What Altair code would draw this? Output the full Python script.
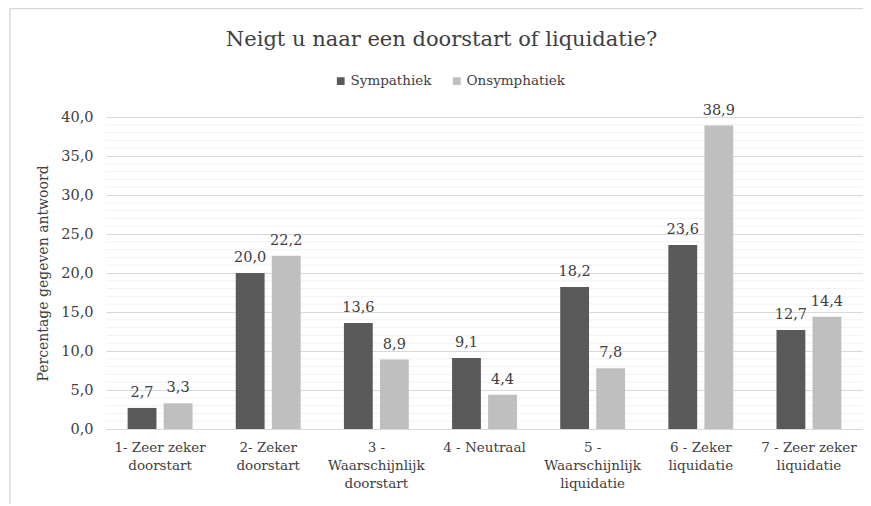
import altair as alt
import pandas as pd

categories = [
    "1- Zeer zeker\ndoorstart",
    "2- Zeker\ndoorstart",
    "3 -\nWaarschijnlijk\ndoorstart",
    "4 - Neutraal",
    "5 -\nWaarschijnlijk\nliquidatie",
    "6 - Zeker\nliquidatie",
    "7 - Zeer zeker\nliquidatie",
]
series_names = ["Sympathiek", "Onsymphatiek"]
sympathiek = [2.7, 20.0, 13.6, 9.1, 18.2, 23.6, 12.7]
onsymphatiek = [3.3, 22.2, 8.9, 4.4, 7.8, 38.9, 14.4]
colors = ["#595959", "#bfbfbf"]
major_ticks = [0, 5, 10, 15, 20, 25, 30, 35, 40]
minor_ticks = [v for v in range(0, 41) if v % 5 != 0]

rows = []
for c, a, b in zip(categories, sympathiek, onsymphatiek):
    rows.append({"cat": c, "serie": series_names[0], "val": a})
    rows.append({"cat": c, "serie": series_names[1], "val": b})
df = pd.DataFrame(rows)
df["label"] = df["val"].map(lambda v: f"{v:.1f}".replace(".", ","))

FONT = "DejaVu Serif"
TXT = "#404040"
FS_NUM = 14.5
FS_TXT = 13.5

y_axis = alt.Axis(values=major_ticks,
                  labelExpr="replace(format(datum.value, '.1f'), '.', ',')",
                  labelFontSize=FS_NUM, labelFont=FONT, labelColor=TXT,
                  labelPadding=13, ticks=False, domain=False,
                  gridColor="#d9d9d9", gridWidth=1,
                  titleFontSize=14, titleFont=FONT, titleColor=TXT,
                  titleFontWeight="normal", titlePadding=10)
y_title = "Percentage gegeven antwoord"

x_enc = alt.X("cat:N", sort=categories, title=None,
              scale=alt.Scale(paddingInner=0.4, paddingOuter=0.2),
              axis=alt.Axis(labelExpr="split(datum.label, '\\n')", labelAngle=0,
                            labelFontSize=FS_TXT, labelFont=FONT, labelColor=TXT,
                            labelLineHeight=18, labelPadding=11, labelBaseline="top",
                            ticks=False, domainColor="#d9d9d9", grid=False))
xoff = alt.XOffset("serie:N", sort=series_names,
                   scale=alt.Scale(paddingInner=0.2))
y_scale = alt.Scale(domain=[0, 40], nice=False, zero=True)

base = alt.Chart(df)

minor = alt.Chart(pd.DataFrame({"v": minor_ticks})).mark_rule(color="#f2f2f2", strokeWidth=1).encode(
    y=alt.Y("v:Q", scale=y_scale, title=y_title, axis=y_axis),
)

bars = base.mark_bar().encode(
    x=x_enc,
    xOffset=xoff,
    y=alt.Y("val:Q", scale=y_scale, title=y_title, axis=y_axis),
    color=alt.Color("serie:N", sort=series_names,
                    scale=alt.Scale(domain=series_names, range=colors),
                    legend=alt.Legend(title=None, orient="none", direction="horizontal",
                                      legendX=228, legendY=-43,
                                      symbolType="square", symbolSize=60,
                                      symbolStrokeWidth=0, labelFontSize=FS_TXT,
                                      labelFont=FONT, labelColor=TXT,
                                      labelOffset=3, columnPadding=18)),
)

labels = base.mark_text(font=FONT, fontSize=FS_NUM, color=TXT, baseline="alphabetic", dy=-11).encode(
    x=alt.X("cat:N", sort=categories),
    xOffset=xoff,
    y=alt.Y("val:Q", scale=y_scale, title=y_title, axis=y_axis),
    text="label:N",
)

frame = alt.Chart(pd.DataFrame({"d": [0]})).mark_rect(
    fill=None, stroke="#d9d9d9", strokeWidth=1.5
).encode(
    x=alt.value(-96), x2=alt.value(800), y=alt.value(-108.5), y2=alt.value(420)
)

chart = alt.layer(minor, bars, labels, frame).properties(
    width=757, height=312,
    title=alt.TitleParams("Neigt u naar een doorstart of liquidatie?", font=FONT,
                          fontSize=21, fontWeight="normal", color=TXT,
                          anchor="middle", dx=-43, dy=45, offset=3),
    autosize=alt.AutoSizeParams(type="none"),
    padding={"left": 98, "top": 109, "right": 0, "bottom": 75},
).configure_view(stroke=None)

chart.save("out.html", embed_options={"renderer": "svg", "actions": False})
